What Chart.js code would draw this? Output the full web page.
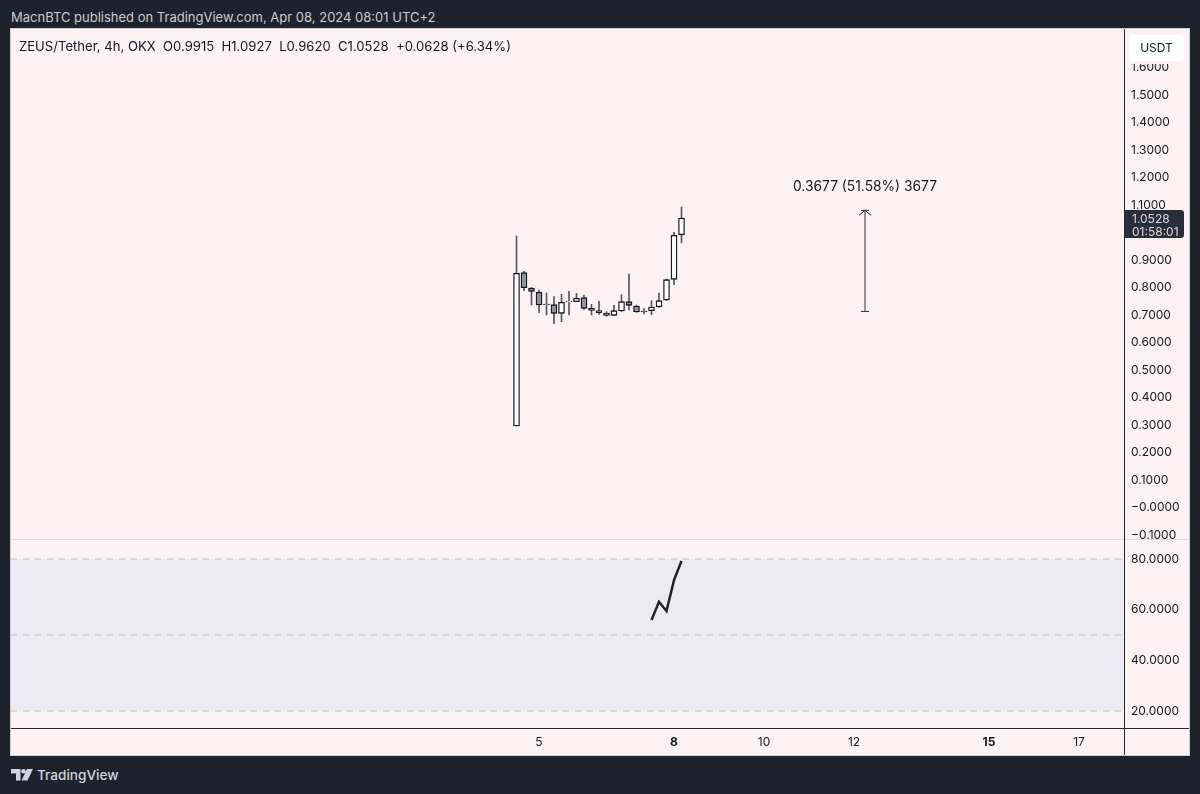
<!DOCTYPE html>
<html>
<head>
<meta charset="utf-8">
<script src="https://cdn.jsdelivr.net/npm/chart.js@4"></script>
<style>
    html, body { margin: 0; padding: 0; background: #1e222d; }
    body { position: relative; width: 1200px; height: 794px; overflow: hidden; font-family: Inter, sans-serif; }
    .abs { position: absolute; white-space: pre; }
    #panel { left: 11px; top: 29px; width: 1178px; height: 726px; background: #fcf2f3; outline: 1px solid #cfc9d0; }
    #priceBox { left: 11px; top: 29px; width: 1178px; height: 510px; }
    #rsiBox { left: 11px; top: 540px; width: 1178px; height: 215px; }
    #header { left: 11px; top: 9px; font-size: 13px; line-height: 16px; color: #c9cbd2; }
    #ohlc { left: 19px; top: 38px; font-size: 13.1px; line-height: 16px; color: #131722; }
    #measure { left: 765px; width: 200px; top: 178px; text-align: center; font-size: 13.8px; line-height: 16px; color: #131722; }
    #pill { left: 1129px; top: 35px; width: 55px; height: 26px; line-height: 26px; background: #fff; border-radius: 4px; text-align: center; font-size: 12px; color: #131722; }
    #pillBack { left: 1125px; top: 30px; width: 64px; height: 34px; background: #fcf2f3; }
    #tag { left: 1125px; top: 210px; width: 59px; height: 28px; background: #2a2e39; border-radius: 0 3px 3px 0; color: #d9dae0; font-size: 12px; line-height: 13px; padding-left: 7px; box-sizing: border-box; padding-top: 2px; }
    #brand { left: 37px; top: 765px; font-size: 13.6px; font-weight: 500; line-height: 20px; color: #d1d4dc; }
    #logo { left: 11px; top: 769px; }
    .rule { background: #26262e; }
</style>
</head>
<body>
<div class="abs" id="panel"></div>
<div class="abs" id="priceBox"><canvas id="priceChart" width="1178" height="510"></canvas></div>
<div class="abs" id="rsiBox"><canvas id="rsiChart" width="1178" height="215"></canvas></div>
<div class="abs" style="left:11px;top:539px;width:1178px;height:1px;background:#e6d9e0"></div>
<div class="abs rule" style="left:1124px;top:29px;width:1px;height:726px"></div>
<div class="abs rule" style="left:11px;top:728px;width:1178px;height:1px"></div>
<div class="abs" id="header">MacnBTC published on TradingView.com, Apr 08, 2024 08:01 UTC+2</div>
<div class="abs" id="ohlc">ZEUS/Tether, 4h, OKX  O0.9915  H1.0927  L0.9620  C1.0528  +0.0628 (+6.34%)</div>
<div class="abs" id="measure">0.3677 (51.58%) 3677</div>
<div class="abs" id="pillBack"></div>
<div class="abs" id="pill">USDT</div>
<div class="abs" id="tag">1.0528
01:58:01</div>
<svg class="abs" id="logo" width="22" height="12" viewBox="0 0 22 12">
    <path d="M0 0h9.5v11.5H5V4.5H0z" fill="#d1d4dc"/>
    <circle cx="12.5" cy="2.3" r="2.3" fill="#d1d4dc"/>
    <path d="M16 0h6l-5.5 11.5H10.5z" fill="#d1d4dc"/>
</svg>
<div class="abs" id="brand">TradingView</div>

<script>
// candles, one every 4h, x is the candle number
const opens  = [0.2964, 0.8540, 0.7982, 0.7824, 0.7400, 0.7376, 0.7061, 0.7485, 0.7485, 0.7630, 0.7243, 0.7158, 0.7073, 0.6988, 0.7146, 0.7485, 0.7327, 0.7146, 0.7158, 0.7303, 0.7546, 0.8297, 0.9915];
const highs  = [0.9873, 0.8588, 0.8006, 0.7909, 0.7800, 0.7667, 0.7752, 0.7861, 0.7788, 0.7727, 0.7388, 0.7497, 0.7121, 0.7352, 0.7740, 0.8491, 0.7364, 0.7243, 0.7521, 0.7800, 0.8309, 1.0006, 1.0927];
const lows   = [0.2964, 0.7885, 0.7364, 0.7085, 0.7000, 0.6685, 0.6758, 0.7000, 0.7485, 0.7206, 0.7000, 0.7024, 0.6952, 0.6976, 0.7121, 0.7182, 0.7097, 0.7037, 0.7012, 0.7279, 0.7521, 0.8103, 0.9620];
const closes = [0.8515, 0.7994, 0.7861, 0.7364, 0.7376, 0.7061, 0.7461, 0.7509, 0.7606, 0.7243, 0.7170, 0.7085, 0.6988, 0.7158, 0.7485, 0.7352, 0.7109, 0.7109, 0.7291, 0.7521, 0.8285, 0.9897, 1.0528];

const rsiStart = 18;
const rsiValues = [55.9, 63.1, 59.5, 71.7, 79.2];
const rsiLevels = [80, 50, 20];

const priceTicks = [1.6, 1.5, 1.4, 1.3, 1.2, 1.1, 1.0, 0.9, 0.8, 0.7, 0.6, 0.5, 0.4, 0.3, 0.2, 0.1, 0, -0.1];
const priceTickLabels = ["1.6000", "1.5000", "1.4000", "1.3000", "1.2000", "1.1000", "1.0000", "0.9000", "0.8000", "0.7000", "0.6000", "0.5000", "0.4000", "0.3000", "0.2000", "0.1000", "\u22120.0000", "\u22120.1000"];
const rsiTicks = [80, 60, 40, 20];
const rsiTickLabels = ["80.0000", "60.0000", "40.0000", "20.0000"];
const dayTicks = [3, 21, 33, 45, 63, 75];
const dayLabels = ["5", "8", "10", "12", "15", "17"];
const boldDays = ["8", "15"];

// the price range drawing tool
const measureX = 46.47;
const measureFrom = 0.7129;
const measureTo = 1.0806;

const xMin = -67.4;
const xMax = 81;
const font = { family: "Inter", size: 12 };

function fixedTicks(values) {
    return (scale) => { scale.ticks = values.map((v) => ({ value: v })); };
}
function labelFrom(values, labels) {
    return (v) => labels[values.indexOf(v)];
}
// keep the plot area exactly on the pane, no room for half labels
function flush(size) {
    return (scale) => {
        if (scale.isHorizontal()) {
            scale.height = size;
            scale.paddingLeft = 0;
            scale.paddingRight = 0;
        } else {
            scale.width = size;
            scale.paddingTop = 0;
            scale.paddingBottom = 0;
        }
    };
}

// chevron on top of the measure line
const arrowHead = {
    id: "arrowHead",
    afterDatasetsDraw(chart) {
        const ctx = chart.ctx;
        const top = chart.getDatasetMeta(2).data[1];
        ctx.save();
        ctx.strokeStyle = "#2a2e39";
        ctx.lineWidth = 1;
        ctx.beginPath();
        ctx.moveTo(top.x - 6, top.y + 5);
        ctx.lineTo(top.x, top.y);
        ctx.lineTo(top.x + 6, top.y + 5);
        ctx.stroke();
        ctx.restore();
    }
};

new Chart(document.getElementById("priceChart"), {
    type: "bar",
    plugins: [arrowHead],
    data: {
        datasets: [
            {
                label: "wick",
                order: 2,
                grouped: false,
                barThickness: 1,
                backgroundColor: "#55585f",
                data: highs.map((h, i) => ({ x: i, y: [lows[i], h] }))
            },
            {
                label: "body",
                order: 1,
                grouped: false,
                barThickness: 6,
                borderWidth: 1.3,
                borderSkipped: false,
                borderColor: "#131722",
                backgroundColor: closes.map((c, i) => (c >= opens[i] ? "#ffffff" : "#8d949b")),
                data: closes.map((c, i) => ({ x: i, y: [opens[i], c] }))
            },
            {
                type: "line",
                label: "measure",
                order: 0,
                borderColor: "#2a2e39",
                borderWidth: 1,
                pointStyle: "line",
                pointRadius: 4,
                pointBorderColor: "#2a2e39",
                pointBorderWidth: 1,
                data: [{ x: measureX, y: measureFrom }, { x: measureX, y: measureTo }]
            }
        ]
    },
    options: {
        responsive: false,
        animation: false,
        layout: { padding: 0, autoPadding: false },
        plugins: { legend: { display: false }, tooltip: { enabled: false } },
        scales: {
            x: { type: "linear", display: false, offset: false, min: xMin, max: xMax, grid: { display: false } },
            y: {
                position: "right",
                min: -0.1145,
                max: 1.74,
                grid: { display: false, drawTicks: false },
                border: { display: false },
                afterBuildTicks: fixedTicks(priceTicks),
                afterFit: flush(65),
                ticks: { padding: 7, color: "#131722", font: font, callback: labelFrom(priceTicks, priceTickLabels) }
            }
        }
    }
});

new Chart(document.getElementById("rsiChart"), {
    type: "line",
    data: {
        datasets: [
            {
                label: "upper",
                borderColor: "#bdbdc4",
                borderWidth: 1,
                borderDash: [6, 6],
                pointRadius: 0,
                fill: "+2",
                backgroundColor: "#eceaf3",
                data: [{ x: xMin, y: rsiLevels[0] }, { x: xMax, y: rsiLevels[0] }]
            },
            {
                label: "middle",
                borderColor: "#bdbdc4",
                borderWidth: 1,
                borderDash: [6, 6],
                pointRadius: 0,
                data: [{ x: xMin, y: rsiLevels[1] }, { x: xMax, y: rsiLevels[1] }]
            },
            {
                label: "lower",
                borderColor: "#bdbdc4",
                borderWidth: 1,
                borderDash: [6, 6],
                pointRadius: 0,
                data: [{ x: xMin, y: rsiLevels[2] }, { x: xMax, y: rsiLevels[2] }]
            },
            {
                label: "RSI",
                borderColor: "#1e222d",
                borderWidth: 2.5,
                pointRadius: 0,
                data: rsiValues.map((v, i) => ({ x: rsiStart + i, y: v }))
            }
        ]
    },
    options: {
        responsive: false,
        animation: false,
        layout: { padding: 0, autoPadding: false },
        plugins: {
            legend: { display: false },
            tooltip: { enabled: false },
            filler: { drawTime: "beforeDatasetsDraw" }
        },
        scales: {
            x: {
                type: "linear",
                offset: false,
                min: xMin,
                max: xMax,
                grid: { display: false, drawTicks: false },
                border: { display: false },
                afterBuildTicks: fixedTicks(dayTicks),
                afterFit: flush(27),
                ticks: {
                    padding: 7,
                    color: "#131722",
                    maxRotation: 0,
                    autoSkip: false,
                    font: (c) => ({ family: "Inter", size: 12, weight: c.tick && boldDays.includes(dayLabels[dayTicks.indexOf(c.tick.value)]) ? "bold" : "normal" }),
                    callback: labelFrom(dayTicks, dayLabels)
                }
            },
            y: {
                position: "right",
                min: 13.3,
                max: 87.5,
                grid: { display: false, drawTicks: false },
                border: { display: false },
                afterBuildTicks: fixedTicks(rsiTicks),
                afterFit: flush(65),
                ticks: { padding: 7, color: "#131722", font: font, callback: labelFrom(rsiTicks, rsiTickLabels) }
            }
        }
    }
});
</script>
</body>
</html>
